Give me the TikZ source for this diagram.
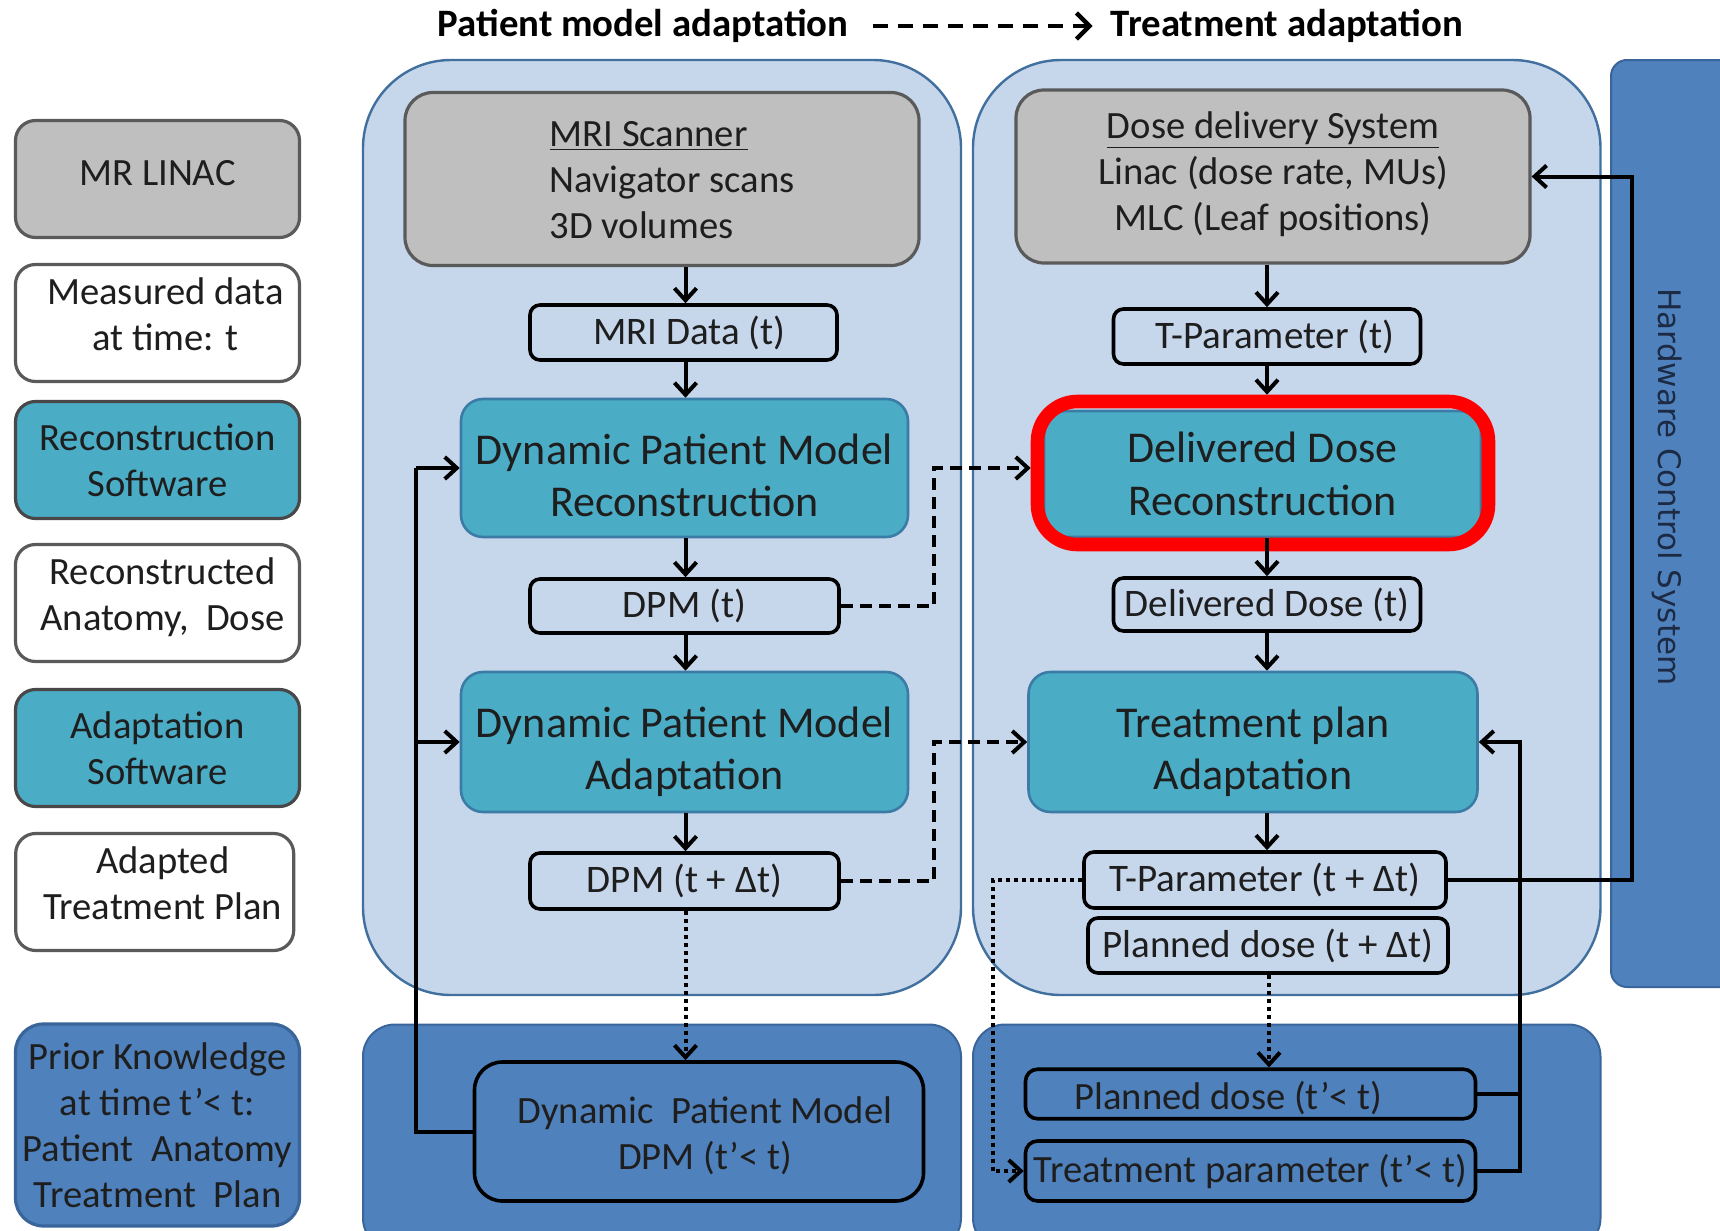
\documentclass[tikz,border=0pt]{standalone}
\usepackage{fontspec}
\setmainfont{Carlito}
\newfontfamily\hwfont{DejaVu Sans}
\usetikzlibrary{arrows.meta}

\definecolor{panelfill}{HTML}{C6D6EB}
\definecolor{paneledge}{HTML}{41709F}
\definecolor{midblue}{HTML}{4F81BD}
\definecolor{midedge}{HTML}{3A659A}
\definecolor{aqua}{HTML}{4BACC6}
\definecolor{aquaedge}{HTML}{3A7CA5}
\definecolor{greyfill}{HTML}{BFBFBF}
\definecolor{greyedge}{HTML}{5A5A5A}
\definecolor{inktext}{HTML}{1E1E1E}
\definecolor{hwtext}{HTML}{1C2A44}

\newcommand\fsz[2]{\fontsize{#1}{#2}\selectfont}
% centred lines, nudged vertically without changing the box size
\newcommand\lift[2]{\raisebox{#1}[\height][\depth]{\begin{tabular}{@{}c@{}}#2\end{tabular}}}

\begin{document}
\begin{tikzpicture}[x=0.5pt,y=-0.5pt,
  every node/.style={text=inktext},
  panel/.style={fill=panelfill, draw=paneledge, line width=1.2pt, rounded corners=44pt},
  basepanel/.style={fill=midblue, draw=midedge, line width=1pt, rounded corners=16pt},
  legendbox/.style={rounded corners=10pt, line width=1.6pt, draw=greyedge, minimum width=142pt,
    minimum height=58.5pt, align=center, font=\fsz{19.3}{23}, inner sep=0pt},
  greybox/.style={fill=greyfill, draw=greyedge, line width=1.6pt, rounded corners=14pt,
    align=center, font=\fsz{19.3}{23}, inner sep=0pt, minimum width=257pt, minimum height=86.5pt},
  aquabox/.style={fill=aqua, draw=aquaedge, line width=1.3pt, rounded corners=11pt,
    align=center, font=\fsz{22}{26.3}, inner sep=0pt},
  databox/.style={fill=panelfill, draw=black, line width=1.8pt, rounded corners=5pt,
    font=\fsz{19.5}{23}, inner sep=0pt},
  priorbox/.style={fill=midblue, draw=black, line width=1.8pt, rounded corners=8pt,
    align=center, font=\fsz{19.3}{23}, inner sep=0pt},
  conn/.style={line width=2pt, draw=black},
  arr/.style={conn, -{Straight Barb[length=6pt,width=11pt]}},
  dasharr/.style={arr, dash pattern=on 6pt off 3.5pt},
  dotarr/.style={arr, dash pattern=on 2pt off 2pt},
  titletext/.style={font=\bfseries\fsz{19.4}{23}, inner sep=0pt, text=black}
]
\useasboundingbox (0,0) rectangle (1720,1231);
\fill[white] (0,0) rectangle (1720,1231);

% headline
\node[titletext] (ttl1) at (643,26) {Patient model adaptation};
\node[titletext] (ttl2) at (1287,26) {Treatment adaptation};
\draw[line width=2.2pt, dash pattern=on 7.5pt off 5pt, -{Straight Barb[length=6.5pt,width=13pt]}]
  ([xshift=12pt]ttl1.east) -- ([xshift=-9pt]ttl2.west);

% background panels
\draw[panel] (363,60) rectangle (961,995);
\draw[panel] (973,60) rectangle (1600.5,995);
\draw[basepanel] (363,1024.5) rectangle (961,1250);
\draw[basepanel] (973,1024.5) rectangle (1600.5,1250);
\draw[fill=midblue, draw=midedge, line width=1pt, rounded corners=8pt] (1611,60) rectangle (1750,987);
\node[rotate=-90, font=\hwfont\fsz{15.5}{18}, text=hwtext] (hwlabel) at (1667,487) {Hardware Control System};

% legend column
\node[legendbox, fill=greyfill] (lg1) at (157.5,179) {\raisebox{6pt}{MR LINAC}};
\node[legendbox, fill=white] (lg2) at (157.5,323) {\lift{2.2pt}{\hspace*{8pt}Measured data\\\hspace*{8pt}at time: t}};
\node[legendbox, fill=aqua, draw=greyedge!80!black] (lg3) at (157.5,460) {Reconstruction\\Software};
\node[legendbox, fill=white] (lg4) at (157.5,603) {\lift{2.2pt}{\hspace*{5pt}Reconstructed\\\hspace*{5pt}Anatomy,\ \ Dose}};
\node[legendbox, fill=aqua, draw=greyedge!80!black] (lg5) at (157.5,748) {Adaptation\\Software};
\node[legendbox, fill=white, minimum width=139pt] (lg6) at (154.7,892) {\lift{2.2pt}{\hspace*{8pt}Adapted\\\hspace*{8pt}Treatment Plan}};
\node[legendbox, fill=midblue, draw=midedge, minimum height=101pt, rounded corners=14pt] (lg7) at (157.5,1125)
  {Prior Knowledge\\at time t’< t:\\Patient\ \ Anatomy\\Treatment\ \ Plan};

% patient model column
\node[greybox] (mri) at (662,179) {\hspace*{10pt}\raisebox{-2.2pt}[\height][\depth]{\begin{tabular}{@{}l@{}}\underline{MRI Scanner}\\Navigator scans\\3D volumes\end{tabular}}};
\node[databox, minimum width=153.5pt, minimum height=27.5pt] (mridata) at (683.5,332.5) {\hspace*{6pt}MRI Data (t)};
\node[aquabox, minimum width=223.5pt, minimum height=69pt] (dpmrec) at (684.5,468) {\lift{-6pt}{Dynamic Patient Model\\Reconstruction}};
\node[databox, minimum width=154.5pt, minimum height=27pt] (dpmt) at (684.5,606) {DPM (t)};
\node[aquabox, minimum width=223.5pt, minimum height=70pt] (dpmad) at (684.5,742) {\lift{-5.5pt}{Dynamic Patient Model\\Adaptation}};
\node[databox, minimum width=154.5pt, minimum height=28pt] (dpmdt) at (684.5,881) {DPM (t + Δt)};
\node[priorbox, minimum width=224.5pt, minimum height=69.5pt, rounded corners=14pt] (dpmprior) at (699,1131.5)
  {\lift{-2.7pt}{\hspace*{6pt}Dynamic\ \ Patient Model\\\hspace*{6pt}DPM (t’< t)}};

% treatment column
\node[greybox] (dds) at (1273,176.5) {\lift{0.5pt}{\underline{Dose delivery System}\\Linac (dose rate, MUs)\\MLC (Leaf positions)}};
\node[databox, minimum width=153.5pt, minimum height=27.5pt] (tpt) at (1267,336.5) {\hspace*{8pt}T-Parameter (t)};
\node[aquabox, minimum width=218.5pt, minimum height=63pt] (ddr) at (1262.5,474) {Delivered Dose\\Reconstruction};
\node[draw=red, line width=6.8pt, rounded corners=20pt, minimum width=225.5pt, minimum height=71.5pt, inner sep=0pt] (hl) at (1263,473) {};
\node[databox, minimum width=153.5pt, minimum height=26.5pt] (dd) at (1267,604.5) {Delivered Dose (t)};
\node[aquabox, minimum width=224.5pt, minimum height=70pt] (tpa) at (1253,742) {\lift{-5.5pt}{Treatment plan\\Adaptation}};
\node[databox, minimum width=181pt, minimum height=28pt] (tpdt) at (1265,880) {T-Parameter (t + Δt)};
\node[databox, minimum width=180pt, minimum height=27.5pt] (pddt) at (1268,945.5) {Planned dose (t + Δt)};
\node[priorbox, minimum width=225pt, minimum height=24.75pt, rounded corners=6pt] (pdp) at (1250.5,1094) {\raisebox{-2.2pt}[\height][\depth]{Planned dose (t’< t)}\hspace*{22pt}};
\node[priorbox, minimum width=225pt, minimum height=30pt, rounded corners=6pt] (tpp) at (1250.5,1171) {Treatment parameter (t’< t)};

% routing columns
\coordinate (lc) at (685.5,0);
\coordinate (rc) at (1267,0);
\coordinate (pc) at (1269,0);
\coordinate (fb) at (415.7,0);
\coordinate (jn) at (933.5,0);
\coordinate (dl) at (992.7,0);
\coordinate (hw) at (1632,0);
\coordinate (rl) at (1520,0);

% main flow, patient model side
\draw[arr] (mri.south -| lc) -- (mridata.north -| lc);
\draw[arr] (mridata.south -| lc) -- (dpmrec.north -| lc);
\draw[arr] (dpmrec.south -| lc) -- (dpmt.north -| lc);
\draw[arr] (dpmt.south -| lc) -- (dpmad.north -| lc);
\draw[arr] (dpmad.south -| lc) -- (dpmdt.north -| lc);
\draw[dotarr] (dpmdt.south -| lc) -- (dpmprior.north -| lc);

% prior model fed back
\draw[conn] (dpmprior.west) -| (fb |- dpmrec.west);
\draw[arr] (fb |- dpmrec.west) -- (dpmrec.west);
\draw[arr] (fb |- dpmad.west) -- (dpmad.west);

% main flow, treatment side
\draw[arr] (dds.south -| rc) -- (tpt.north -| rc);
\draw[arr] (tpt.south -| rc) -- (hl.north -| rc);
\draw[arr] (ddr.south -| rc) -- (dd.north -| rc);
\draw[arr] (dd.south -| rc) -- (tpa.north -| rc);
\draw[arr] (tpa.south -| rc) -- (tpdt.north -| rc);
\draw[dotarr] (pddt.south -| pc) -- (pdp.north -| pc);

% patient model into treatment
\draw[dasharr] (dpmt.east) -| (jn |- dpmrec.east) -- (hl.west |- dpmrec.east);
\draw[dasharr] (dpmdt.east) -| (jn |- tpa.west) -- (tpa.west);

% stored parameters
\draw[dotarr] (tpdt.west) -| (dl |- tpp.west) -- (tpp.west);

% hardware loop
\draw[arr] (tpdt.east) -| (hw |- dds.east) -- (dds.east);

% prior plan into adaptation
\draw[conn] (pdp.east) -- (rl |- pdp.east);
\draw[arr] (tpp.east) -| (rl |- tpa.east) -- (tpa.east);
\end{tikzpicture}
\end{document}
